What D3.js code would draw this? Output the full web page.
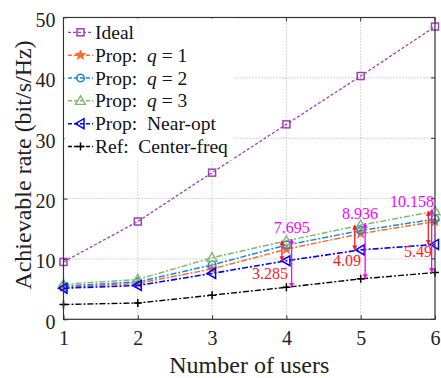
<!DOCTYPE html>
<html><head><meta charset="utf-8">
<script src="https://cdn.jsdelivr.net/npm/d3@7"></script>
<style>body{margin:0;background:#fff}svg{display:block}</style>
</head><body><svg id="c" width="441" height="378"></svg>
<script>
const users = [1, 2, 3, 4, 5, 6];
const ideal = [9.5, 16.2, 24.3, 32.3, 40.3, 48.5];
const propQ1 = [5.3, 5.95, 8.35, 11.6, 14.2, 16.2];
const propQ2 = [5.5, 6.2, 9.0, 12.3, 14.7, 16.6];
const propQ3 = [5.8, 6.6, 10.2, 13.0, 15.6, 17.9];
const nearOpt = [5.15, 5.6, 7.6, 9.7, 11.5, 12.4];
const centerFreq = [2.45, 2.7, 4.0, 5.3, 6.7, 7.75];
const xTicks = [1, 2, 3, 4, 5, 6];
const yTicks = [0, 10, 20, 30, 40, 50];
const gapUsers = [4, 5, 6];
const gapNear = ["3.285", "4.09", "5.49"];
const gapCenter = ["7.695", "8.936", "10.158"];

const FF = "'Liberation Serif'";
const svg = d3.select("#c").style("font-family", FF);
const m = {l: 63.5, r: 435, t: 17.5, b: 319.3};
const x = d3.scaleLinear().domain([1, 6]).range([m.l, m.r]);
const y = d3.scaleLinear().domain([0, 50]).range([m.b, m.t]);

const defs = svg.append("defs");
[["red","#ff1a1a"],["mag","#ff00ff"]].forEach(([id,c])=>{
  defs.append("marker").attr("id","ah-"+id).attr("viewBox","0 0 10 10").attr("refX",9).attr("refY",5)
    .attr("markerWidth",5).attr("markerHeight",7).attr("markerUnits","userSpaceOnUse").attr("orient","auto-start-reverse")
    .append("path").attr("d","M0,0L10,5L0,10z").attr("fill",c);
});

// grid
const g = svg.append("g");
g.selectAll(".gx").data(xTicks.slice(1,-1)).join("line")
  .attr("x1",d=>x(d)).attr("x2",d=>x(d)).attr("y1",m.t).attr("y2",m.b)
  .attr("stroke","#999").attr("stroke-width",0.8).attr("stroke-dasharray","1,2");
g.selectAll(".gy").data(yTicks.slice(1,-1)).join("line")
  .attr("y1",d=>y(d)).attr("y2",d=>y(d)).attr("x1",m.l).attr("x2",m.r)
  .attr("stroke","#999").attr("stroke-width",0.8).attr("stroke-dasharray","1,2");

// axes
const xAxis = d3.axisBottom(x).tickValues(xTicks).tickFormat(d3.format("d")).tickSize(-4).tickPadding(12);
const yAxis = d3.axisLeft(y).tickValues(yTicks).tickFormat(d3.format("d")).tickSize(-4).tickPadding(8);
const ax = svg.append("g").attr("transform",`translate(0,${m.b})`).call(xAxis);
const ay = svg.append("g").attr("transform",`translate(${m.l},0)`).call(yAxis);
[ax,ay].forEach(a=>{a.attr("font-family",null);a.select(".domain").remove();a.selectAll("line").attr("stroke","#333");
  a.selectAll("text").attr("font-size",20).attr("fill","#222").style("font-family",FF);});
ay.selectAll("text").attr("dy","0.45em");
svg.append("g").selectAll("line").data(xTicks).join("line").attr("x1",d=>x(d)).attr("x2",d=>x(d))
  .attr("y1",m.t).attr("y2",m.t+4).attr("stroke","#333");
svg.append("g").selectAll("line").data(yTicks).join("line").attr("y1",d=>y(d)).attr("y2",d=>y(d))
  .attr("x1",m.r).attr("x2",m.r-4).attr("stroke","#333");

const series = [
  {name:"Ideal", vals:ideal, color:"#a040b8", dash:"3,2", w:1.3, mk:"square"},
  {name:"q1", vals:propQ1, color:"#ff6a26", dash:"6,2,2,2", w:1.5, mk:"dot"},
  {name:"q2", vals:propQ2, color:"#1a88dd", dash:"6,2,2,2", w:1.5, mk:"circle"},
  {name:"q3", vals:propQ3, color:"#80b870", dash:"6,2,2,2", w:1.5, mk:"tri"},
  {name:"Near", vals:nearOpt, color:"#0000ff", dash:"6,2,2,2", w:1.6, mk:"left"},
  {name:"Center", vals:centerFreq, color:"#000", dash:"6,2,2,2", w:1.4, mk:"plus"}
];
function marker(sel, s, cx, cy){
  const c=s.color;
  if(s.mk==="square") sel.append("rect").attr("x",cx-3.5).attr("y",cy-3.5).attr("width",7).attr("height",7).attr("fill","none").attr("stroke",c).attr("stroke-width",1.5);
  if(s.mk==="dot") sel.append("path").attr("d",d3.symbol(d3.symbolStar,30)()).attr("transform",`translate(${cx},${cy})`).attr("fill",c).attr("stroke",c);
  if(s.mk==="circle") sel.append("circle").attr("cx",cx).attr("cy",cy).attr("r",3.8).attr("fill","none").attr("stroke",c).attr("stroke-width",1.5);
  if(s.mk==="tri") sel.append("path").attr("d",`M${cx},${cy-5}L${cx+5},${cy+3.5}L${cx-5},${cy+3.5}Z`).attr("fill","none").attr("stroke",c).attr("stroke-width",1.4);
  if(s.mk==="left") sel.append("path").attr("d",`M${cx-5},${cy}L${cx+3.5},${cy-5}L${cx+3.5},${cy+5}Z`).attr("fill","none").attr("stroke",c).attr("stroke-width",1.5);
  if(s.mk==="plus") sel.append("path").attr("d",`M${cx-4},${cy}H${cx+4}M${cx},${cy-4}V${cy+4}`).attr("stroke",c).attr("stroke-width",1.5);
}
const line = d3.line().x((d,i)=>x(users[i])).y(d=>y(d));
const plot = svg.append("g");
series.forEach(s=>{
  plot.append("path").attr("d",line(s.vals)).attr("fill","none").attr("stroke",s.color)
    .attr("stroke-width",s.w).attr("stroke-dasharray",s.dash);
  const mg = plot.append("g");
  s.vals.forEach((v,i)=>marker(mg,s,x(users[i]),y(v)));
});

// annotations
const ann = svg.append("g");
const redX = [3.94, 4.92, 5.91], magX = [4.07, 5.06, 5.955];
gapUsers.forEach((u,i)=>{
  const k = users.indexOf(u);
  ann.append("line").attr("x1",x(redX[i])).attr("x2",x(redX[i])).attr("y1",y(propQ3[k])).attr("y2",y(nearOpt[k]))
    .attr("stroke","#ff1a1a").attr("stroke-width",1.3).attr("marker-start","url(#ah-red)").attr("marker-end","url(#ah-red)");
  ann.append("line").attr("x1",x(magX[i])).attr("x2",x(magX[i])).attr("y1",y(propQ3[k]+0.3)).attr("y2",y(centerFreq[k]))
    .attr("stroke","#ff00ff").attr("stroke-width",1.3).attr("marker-start","url(#ah-mag)").attr("marker-end","url(#ah-mag)");
});
const magPos = [[291.7,233],[360,219],[412,207]];
const redPos = [[270,279],[347,266],[418,257]];
gapCenter.forEach((t,i)=>ann.append("text").attr("x",magPos[i][0]).attr("y",magPos[i][1]).attr("text-anchor","middle")
  .style("font-family",FF).attr("font-size",16).attr("fill","#ff00ff").text(t));
gapNear.forEach((t,i)=>ann.append("text").attr("x",redPos[i][0]).attr("y",redPos[i][1]).attr("text-anchor","middle")
  .style("font-family",FF).attr("font-size",16).attr("fill","#ff1a1a").text(t));

// frame
svg.append("rect").attr("x",m.l).attr("y",m.t).attr("width",m.r-m.l).attr("height",m.b-m.t)
  .attr("fill","none").attr("stroke","#333").attr("stroke-width",1.2);

// legend
const lg = svg.append("g");
lg.append("rect").attr("x",m.l+1).attr("y",m.t+1).attr("width",169).attr("height",142).attr("fill","#fff");
const labels = [
  [{t:"Ideal"}],
  [{t:"Prop:  "},{t:"q",i:true},{t:" = 1"}],
  [{t:"Prop:  "},{t:"q",i:true},{t:" = 2"}],
  [{t:"Prop:  "},{t:"q",i:true},{t:" = 3"}],
  [{t:"Prop:  Near-opt"}],
  [{t:"Ref:  Center-freq"}]
];
series.forEach((s,i)=>{
  const yy = 32.3 + i*22.85;
  lg.append("line").attr("x1",68).attr("x2",93).attr("y1",yy).attr("y2",yy).attr("stroke",s.color)
    .attr("stroke-width",s.w).attr("stroke-dasharray",i===0?"3,2":"4,2");
  marker(lg,s,80.5,yy);
  const tx = lg.append("text").attr("x",95).attr("y",yy+6.5).style("font-family",FF).attr("font-size",19.5).attr("fill","#111").style("white-space","pre");
  labels[i].forEach(p=>tx.append("tspan").attr("font-style",p.i?"italic":"normal").text(p.t));
});

svg.append("text").attr("x",(m.l+m.r)/2).attr("y",373).attr("text-anchor","middle").style("font-family",FF).attr("font-size",24).attr("fill","#222").text("Number of users");
svg.append("text").attr("transform",`translate(31,165) rotate(-90)`).attr("text-anchor","middle").style("font-family",FF).attr("font-size",24).attr("fill","#222").text("Achievable rate (bit/s/Hz)");
</script></body></html>
